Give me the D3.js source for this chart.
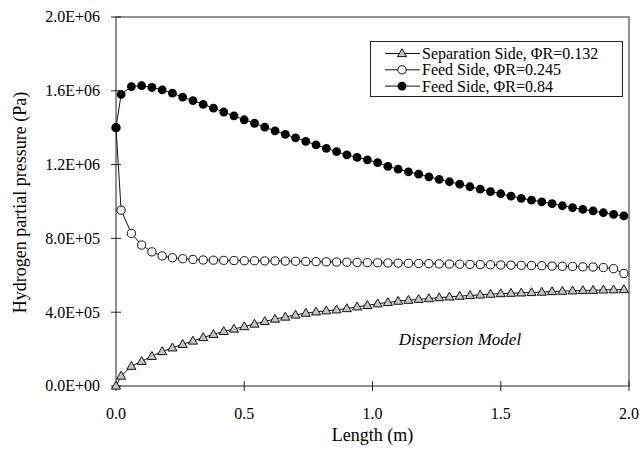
<!DOCTYPE html>
<html>
<head>
<meta charset="utf-8">
<script src="https://cdn.jsdelivr.net/npm/d3@7"></script>
<style>
  body { margin: 0; background: #fff; }
  svg { display: block; }
  text { font-family: "Liberation Serif", "Times New Roman", serif; }
</style>
</head>
<body>
<div id="chart"></div>
<script>
// positions along the tube (m)
const lengths = [0, 0.02, 0.06, 0.10, 0.14, 0.18, 0.22, 0.26, 0.30, 0.34, 0.38, 0.42, 0.46, 0.50,
  0.54, 0.58, 0.62, 0.66, 0.70, 0.74, 0.78, 0.82, 0.86, 0.90, 0.94, 0.98, 1.02, 1.06, 1.10,
  1.14, 1.18, 1.22, 1.26, 1.30, 1.34, 1.38, 1.42, 1.46, 1.50, 1.54, 1.58, 1.62, 1.66, 1.70,
  1.74, 1.78, 1.82, 1.86, 1.90, 1.94, 1.98];

// hydrogen partial pressure, in units of 1E+06 Pa
const separationSide = [0, 0.054, 0.107, 0.134, 0.161, 0.187, 0.207, 0.226, 0.244, 0.263, 0.280,
  0.296, 0.309, 0.322, 0.336, 0.350, 0.363, 0.374, 0.385, 0.395, 0.402, 0.408, 0.413, 0.420,
  0.429, 0.437, 0.446, 0.453, 0.460, 0.465, 0.470, 0.474, 0.479, 0.483, 0.487, 0.491, 0.494,
  0.498, 0.501, 0.503, 0.505, 0.507, 0.509, 0.512, 0.514, 0.516, 0.518, 0.519, 0.521, 0.522, 0.523];
const feedSideLow = [1.400, 0.953, 0.827, 0.764, 0.727, 0.705, 0.695, 0.690, 0.686, 0.683, 0.682,
  0.681, 0.680, 0.679, 0.679, 0.678, 0.678, 0.677, 0.676, 0.675, 0.674, 0.673, 0.672, 0.671,
  0.670, 0.669, 0.668, 0.667, 0.666, 0.665, 0.664, 0.663, 0.662, 0.661, 0.660, 0.659, 0.658,
  0.657, 0.656, 0.655, 0.654, 0.653, 0.652, 0.650, 0.649, 0.648, 0.646, 0.645, 0.642, 0.636, 0.610];
const feedSideHigh = [1.400, 1.580, 1.623, 1.628, 1.618, 1.605, 1.587, 1.566, 1.547, 1.526, 1.506,
  1.485, 1.464, 1.443, 1.424, 1.403, 1.383, 1.364, 1.345, 1.326, 1.307, 1.288, 1.270, 1.253,
  1.239, 1.226, 1.211, 1.190, 1.175, 1.161, 1.148, 1.134, 1.120, 1.107, 1.094, 1.080, 1.067,
  1.054, 1.042, 1.029, 1.017, 1.007, 0.998, 0.988, 0.977, 0.967, 0.957, 0.949, 0.939, 0.930, 0.922];

const xTicks = [0, 0.5, 1.0, 1.5, 2.0];
const yTicks = [0, 4e5, 8e5, 1.2e6, 1.6e6, 2e6];
const legendLabels = ['Separation Side, \u03A6R=0.132', 'Feed Side, \u03A6R=0.245', 'Feed Side, \u03A6R=0.84'];

const width = 642, height = 454;
const margin = { left: 116, right: 13, top: 17, bottom: 68 };
const serif = 'Liberation Serif';

const svg = d3.select('#chart').append('svg')
    .attr('width', width)
    .attr('height', height);

const x = d3.scaleLinear().domain([0, 2]).range([margin.left, width - margin.right]);
const y = d3.scaleLinear().domain([0, 2e6]).range([height - margin.bottom, margin.top]);

const fmtE = v => {
    const e = v === 0 ? 0 : Math.floor(Math.log10(v) + 1e-9);
    const m = v / Math.pow(10, e);
    return m.toFixed(1) + 'E+' + String(e).padStart(2, '0');
};

// frame
svg.append('rect')
    .attr('x', x(0)).attr('y', y(2e6))
    .attr('width', x(2) - x(0)).attr('height', y(0) - y(2e6))
    .attr('fill', 'none').attr('stroke', '#222').attr('stroke-width', 1);

// cross ticks
const tickLen = 5;
svg.append('g').selectAll('line')
    .data(xTicks)
    .join('line')
    .attr('x1', d => x(d)).attr('x2', d => x(d))
    .attr('y1', y(0) - tickLen).attr('y2', y(0) + tickLen)
    .attr('stroke', '#222');
svg.append('g').selectAll('line')
    .data(yTicks)
    .join('line')
    .attr('x1', x(0) - tickLen).attr('x2', x(0) + tickLen)
    .attr('y1', d => y(d)).attr('y2', d => y(d))
    .attr('stroke', '#222');

svg.append('g').selectAll('text')
    .data(xTicks)
    .join('text')
    .attr('x', d => x(d))
    .attr('y', 419)
    .attr('text-anchor', 'middle')
    .style('font-family', serif)
    .attr('font-size', 16)
    .text(d => d3.format('.1f')(d));

svg.append('g').selectAll('text')
    .data(yTicks)
    .join('text')
    .attr('x', 100)
    .attr('y', d => y(d))
    .attr('dy', '0.34em')
    .attr('text-anchor', 'end')
    .style('font-family', serif)
    .attr('font-size', 16)
    .text(fmtE);

// axis titles
svg.append('text')
    .attr('x', x(1))
    .attr('y', 441)
    .attr('text-anchor', 'middle')
    .style('font-family', serif)
    .attr('font-size', 18)
    .text('Length (m)');

svg.append('text')
    .attr('transform', `translate(26,${(y(0) + y(2e6)) / 2 + 1}) rotate(-90)`)
    .attr('text-anchor', 'middle')
    .style('font-family', serif)
    .attr('font-size', 18)
    .text('Hydrogen partial pressure (Pa)');

svg.append('text')
    .attr('x', 460)
    .attr('y', 345)
    .attr('text-anchor', 'middle')
    .style('font-family', serif)
    .attr('font-size', 17)
    .attr('font-style', 'italic')
    .text('Dispersion Model');

// series
const series = [
    { values: separationSide, marker: 'triangle' },
    { values: feedSideLow, marker: 'open' },
    { values: feedSideHigh, marker: 'filled' }
];

const line = d3.line()
    .x(d => x(d[0]))
    .y(d => y(d[1] * 1e6));

const triangle = d3.symbol().type(d3.symbolTriangle).size(36);

function drawMarker(g, kind) {
    if (kind === 'triangle') {
        g.append('path')
            .attr('d', triangle())
            .attr('transform', 'translate(0,0.5)')
            .attr('fill', '#c4c4c4')
            .attr('stroke', '#111')
            .attr('stroke-width', 1);
    } else if (kind === 'open') {
        g.append('circle')
            .attr('r', 4.1)
            .attr('fill', '#fff')
            .attr('stroke', '#111')
            .attr('stroke-width', 1);
    } else {
        g.append('circle')
            .attr('r', 4.4)
            .attr('fill', '#000');
    }
}

series.forEach(s => {
    const pts = lengths.map((l, i) => [l, s.values[i]]);
    const g = svg.append('g');
    g.append('path')
        .datum(pts)
        .attr('fill', 'none')
        .attr('stroke', '#111')
        .attr('stroke-width', 1)
        .attr('d', line);
    g.selectAll('g')
        .data(pts)
        .join('g')
        .attr('transform', d => `translate(${x(d[0])},${y(d[1] * 1e6)})`)
        .each(function () { drawMarker(d3.select(this), s.marker); });
});

// legend
const legend = svg.append('g');
legend.append('rect')
    .attr('x', 370.5).attr('y', 41.5)
    .attr('width', 252).attr('height', 55)
    .attr('fill', '#fff').attr('stroke', '#222');

legendLabels.forEach((label, i) => {
    const ly = 53.5 + i * 16.3;
    const row = legend.append('g');
    row.append('line')
        .attr('x1', 385).attr('x2', 420)
        .attr('y1', ly).attr('y2', ly)
        .attr('stroke', '#111');
    const m = row.append('g').attr('transform', `translate(402,${ly})`);
    drawMarker(m, series[i].marker);
    row.append('text')
        .attr('x', 422)
        .attr('y', ly)
        .attr('dy', '0.34em')
        .style('font-family', serif)
        .attr('font-size', 16)
        .text(label);
});
</script>
</body>
</html>
